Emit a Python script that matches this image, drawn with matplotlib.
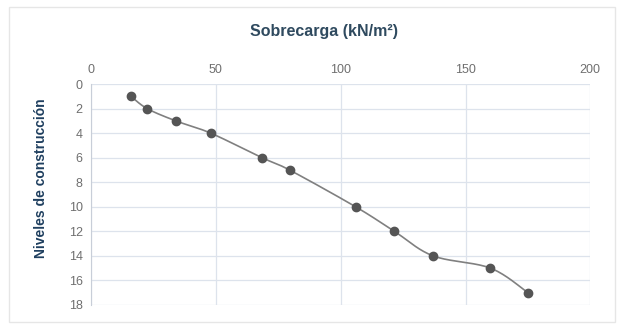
import numpy as np
import matplotlib.pyplot as plt
from matplotlib.patches import Rectangle

plt.rcParams['font.family'] = ['Liberation Sans', 'DejaVu Sans']

# data
sobrecarga = [16, 22.5, 34, 48, 68.5, 79.5, 106, 121.5, 137, 160, 175]
niveles = [1, 2, 3, 4, 6, 7, 10, 12, 14, 15, 17]
x_ticks = [0, 50, 100, 150, 200]
y_ticks = [0, 2, 4, 6, 8, 10, 12, 14, 16, 18]


def smooth(x, y, n=20):
    # catmull-rom through the points, like excel's smoothed line
    p = np.column_stack([x, y]).astype(float)
    p = np.vstack([p[0], p, p[-1]])
    out = []
    t = np.linspace(0, 1, n)[:, None]
    for i in range(1, len(p) - 2):
        p0, p1, p2, p3 = p[i - 1], p[i], p[i + 1], p[i + 2]
        seg = 0.5 * ((2 * p1) + (-p0 + p2) * t + (2 * p0 - 5 * p1 + 4 * p2 - p3) * t ** 2
                     + (-p0 + 3 * p1 - 3 * p2 + p3) * t ** 3)
        out.append(seg)
    out = np.vstack(out)
    return out[:, 0], out[:, 1]


fig = plt.figure(figsize=(6.24, 3.30), dpi=100)
ax = fig.add_axes([0.146, 0.076, 0.80, 0.669])

fig.patches.append(Rectangle((0.015, 0.025), 0.97, 0.955, transform=fig.transFigure,
                             fill=False, edgecolor='#e6e6e6', lw=1))

sx, sy = smooth(sobrecarga, niveles)
ax.plot(sx, sy, color='#808080', lw=1.2, zorder=2)
ax.plot(sobrecarga, niveles, 'o', color='#555555', ms=6, zorder=3)

ax.set_xlim(0, 200)
ax.set_ylim(18, 0)
ax.set_xticks(x_ticks)
ax.set_yticks(y_ticks)
ax.xaxis.tick_top()
ax.tick_params(length=0, labelsize=9, labelcolor='#6f6f6f', pad=6)
ax.grid(True, color='#dde3ec', lw=0.9)
ax.set_axisbelow(True)
for s in ['top', 'right', 'bottom']:
    ax.spines[s].set_visible(False)
ax.spines['left'].set_color('#c8ced8')

fig.text(0.52, 0.905, 'Sobrecarga (kN/m²)', ha='center', va='center',
         fontsize=11.5, fontweight='bold', color='#2f4a5f')
fig.text(0.066, 0.46, 'Niveles de construcción', rotation=90, ha='center', va='center',
         fontsize=10, fontweight='bold', color='#1f3f5f')

fig.savefig('out.png', dpi=100)
